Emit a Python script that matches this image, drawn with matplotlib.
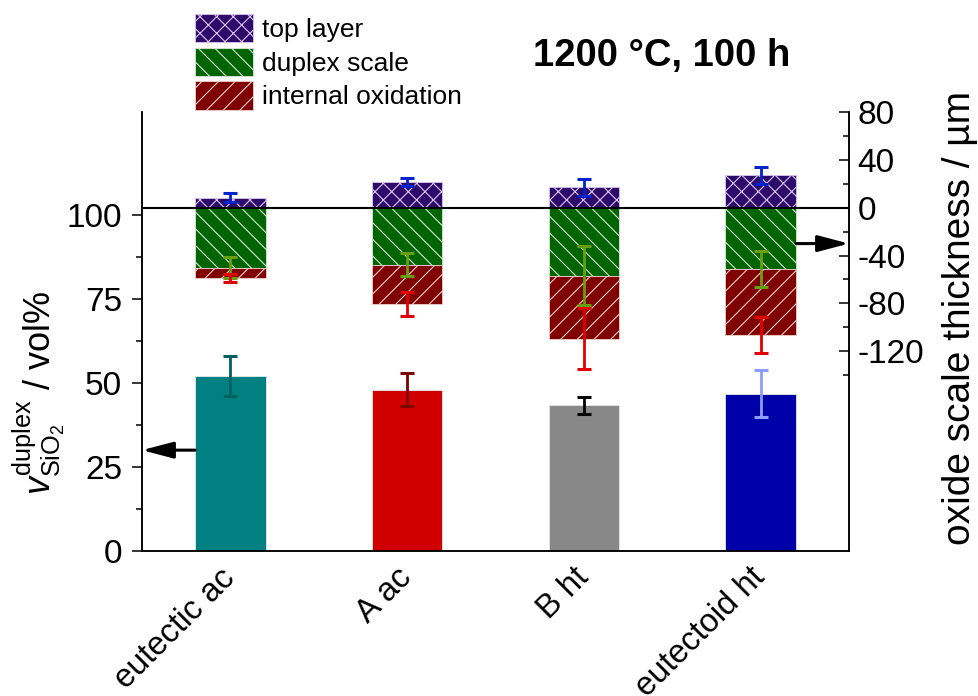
import matplotlib
matplotlib.use("Agg")
import matplotlib.pyplot as plt
from matplotlib.patches import Patch
import numpy as np

plt.rcParams["font.family"] = ["Liberation Sans", "DejaVu Sans"]
plt.rcParams["mathtext.fontset"] = "custom"
plt.rcParams["mathtext.rm"] = "Liberation Sans"
plt.rcParams["mathtext.it"] = "Liberation Sans:italic"
plt.rcParams["hatch.linewidth"] = 0.8
plt.rcParams["axes.unicode_minus"] = False

# samples
samples = ["eutectic ac", "A ac", "B ht", "eutectoid ht"]

# left axis: SiO2 fraction in duplex scale / vol%
sio2_vol = [52.0, 48.0, 43.3, 46.8]
sio2_err = [6.0, 5.0, 2.6, 7.0]

# right axis: oxide scale thickness / um
top_layer = [8.5, 21.5, 17.0, 27.0]
top_err = [3.6, 3.5, 7.0, 7.4]
duplex_depth = [50.0, 47.5, 56.7, 51.0]
duplex_err = [8.5, 10.0, 24.5, 15.0]
internal_depth = [58.6, 80.8, 109.4, 106.7]
internal_err = [3.3, 10.0, 25.5, 15.0]

bar_colors = ["#008080", "#d00000", "#888888", "#0000a8"]
bar_err_colors = ["#006060", "#800000", "#000000", "#8c9cff"]

x = np.arange(len(samples))
w = 0.4

fig = plt.figure(figsize=(9.79, 6.96), dpi=100)
ax = fig.add_axes([142 / 979, 145 / 696, 707 / 979, 439 / 696])
ax2 = ax.twinx()

# left bars
ax.bar(x, sio2_vol, w, color=bar_colors, edgecolor="#e8e8e8", linewidth=0.6, zorder=2)
for i in range(len(x)):
    ax.errorbar(x[i], sio2_vol[i], yerr=sio2_err[i], fmt="none", ecolor=bar_err_colors[i],
                elinewidth=2, capsize=5, capthick=2.2, zorder=3)

# stacked oxide thickness bars
top_c, dup_c, int_c = "#2e0a6a", "#006400", "#800000"
top_h, dup_h, int_h = "#d8c8ee", "#d8e8d8", "#f0d0d0"
ax2.bar(x, top_layer, w, color=top_c, edgecolor=top_h, hatch="xx", linewidth=0.6, zorder=2)
ax2.bar(x, [-d for d in duplex_depth], w, color=dup_c, edgecolor=dup_h, hatch="\\\\",
        linewidth=0.6, zorder=2)
ax2.bar(x, [d - i for d, i in zip(duplex_depth, internal_depth)], w,
        bottom=[-d for d in duplex_depth], color=int_c, edgecolor=int_h, hatch="//",
        linewidth=0.6, zorder=2)
ax2.axhline(0, color="black", lw=1.5, zorder=4)

ax2.errorbar(x, [-d for d in duplex_depth], yerr=duplex_err, fmt="none", ecolor="#6a9e12",
             elinewidth=2, capsize=5, capthick=2.2, zorder=5)
ax2.errorbar(x, [-d for d in internal_depth], yerr=internal_err, fmt="none", ecolor="#e00000",
             elinewidth=2, capsize=5, capthick=2.2, zorder=5)
ax2.errorbar(x, top_layer, yerr=top_err, fmt="none", ecolor="#0022cc",
             elinewidth=2, capsize=5, capthick=2.2, zorder=5)

# axes limits and ticks
ax.set_xlim(-0.5, 3.5)
ax.set_ylim(0, 130.6)
ax2.set_ylim(-287, 80)
ax.set_xticks(x)
ax.set_xticklabels(samples, rotation=45, ha="right", va="center", rotation_mode="anchor",
                   fontsize=23.5)
ax.tick_params(axis="x", length=0, pad=16)
ax.set_yticks([0, 25, 50, 75, 100])
ax.set_yticks([12.5, 37.5, 62.5, 87.5], minor=True)
ax.tick_params(axis="y", which="major", direction="out", length=7.2, width=1.1, labelsize=24,
               pad=7)
ax.tick_params(axis="y", which="minor", direction="out", length=4, width=1.1)
ax2.set_yticks([80, 40, 0, -40, -80, -120])
ax2.set_yticks([60, 20, -20, -60, -100, -140], minor=True)
ax2.tick_params(axis="y", which="major", direction="in", length=7, width=1.1, labelsize=24,
                pad=6)
ax2.tick_params(axis="y", which="minor", direction="in", length=4, width=1.1)

for a in (ax, ax2):
    a.spines["top"].set_visible(False)
    for s in a.spines.values():
        s.set_linewidth(1.1)

# arrows to the axes
arrow = dict(arrowstyle="-|>,head_length=0.95,head_width=0.25", color="black", lw=2.2,
             shrinkA=0, shrinkB=0, mutation_scale=20)
ax.annotate("", xy=(-0.5, 30), xytext=(-0.2, 30), arrowprops=arrow, zorder=6,
            annotation_clip=False)
ax2.annotate("", xy=(3.5, -30), xytext=(3.2, -30), arrowprops=arrow, zorder=6,
             annotation_clip=False)

# labels
fig.text(39 / 979, 1 - 393 / 696, r"$v^{\mathrm{duplex}}_{\mathrm{SiO_2}}$ / vol%",
         rotation=90, ha="center", va="center", fontsize=26)
fig.text(960 / 979, 1 - 318 / 696, "oxide scale thickness / µm", rotation=90,
         ha="center", va="center", fontsize=28)
fig.text(662 / 979, 1 - 56 / 696, "1200 °C, 100 h", ha="center", va="center",
         fontsize=27.5, fontweight="bold")

handles = [Patch(facecolor=top_c, edgecolor=top_h, hatch="xx", lw=0.6),
           Patch(facecolor=dup_c, edgecolor=dup_h, hatch="\\\\", lw=0.6),
           Patch(facecolor=int_c, edgecolor=int_h, hatch="//", lw=0.6)]
fig.legend(handles, ["top layer", "duplex scale", "internal oxidation"],
           loc="upper left", bbox_to_anchor=(195 / 979, 1 - 14 / 696), frameon=False,
           fontsize=19, handlelength=2.2, handleheight=1.28, labelspacing=0.2,
           handletextpad=0.34, borderpad=0, borderaxespad=0)

fig.savefig("out.png", dpi=100)
